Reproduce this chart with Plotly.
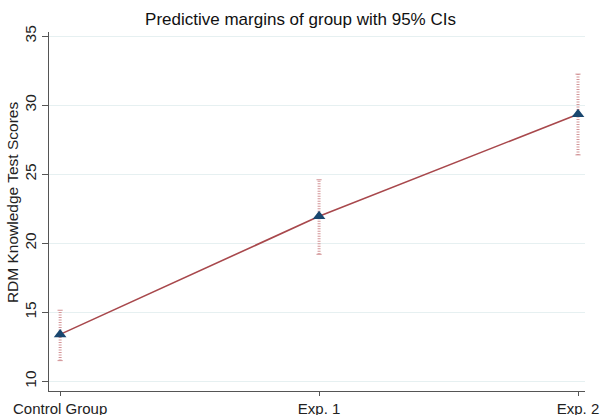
import plotly.graph_objects as go

groups = ["Control Group", "Exp. 1", "Exp. 2"]
margins = [13.4, 21.95, 29.35]
ci_low = [11.5, 19.2, 26.4]
ci_high = [15.15, 24.6, 32.25]
y_ticks = [10, 15, 20, 25, 30, 35]

xpos = list(range(len(groups)))

fig = go.Figure()

# CI bars (dotted) with small caps
ex, ey = [], []
for i, (lo, hi) in enumerate(zip(ci_low, ci_high)):
    ex += [xpos[i], xpos[i], None]
    ey += [lo, hi, None]
fig.add_trace(go.Scatter(x=ex, y=ey, mode="lines",
                         line=dict(color="#d39598", width=3, dash="1px,1.5px"),
                         hoverinfo="skip", showlegend=False))
cx, cy = [], []
cap = 0.01
for i, (lo, hi) in enumerate(zip(ci_low, ci_high)):
    for v in (lo, hi):
        cx += [xpos[i] - cap, xpos[i] + cap, None]
        cy += [v, v, None]
fig.add_trace(go.Scatter(x=cx, y=cy, mode="lines",
                         line=dict(color="#d39598", width=1),
                         hoverinfo="skip", showlegend=False))

fig.add_trace(go.Scatter(x=xpos, y=margins, mode="lines+markers",
                         line=dict(color="#a8484c", width=1.6),
                         marker=dict(symbol="triangle-up", size=11, color="#1a476f"),
                         showlegend=False))

fig.update_layout(
    width=601, height=415,
    margin=dict(l=49, r=16, t=32, b=24),
    paper_bgcolor="white", plot_bgcolor="white",
    font=dict(family="Liberation Sans, Arial, sans-serif", size=15, color="#222"),
    title=dict(text="Predictive margins of group with 95% CIs",
               x=0.5, xanchor="center", y=0.955, yanchor="middle",
               font=dict(size=17, color="#111")),
    annotations=[dict(text="RDM Knowledge Test Scores", textangle=-90,
                      xref="paper", yref="paper", x=-0.068, y=0.525,
                      xanchor="center", yanchor="middle", showarrow=False,
                      font=dict(size=15.5, color="#222"))],
)
fig.update_xaxes(range=[-0.043, 2.027], tickvals=xpos, ticktext=groups,
                 showgrid=False, zeroline=False, automargin=False,
                 showline=True, linecolor="#555", linewidth=1,
                 ticks="outside", ticklen=4, tickcolor="#555",
                 tickfont=dict(size=15, color="#222"))
fig.update_yaxes(range=[9.3, 35.3], tickvals=y_ticks,
                 showgrid=True, gridcolor="#e6f0f1", gridwidth=1,
                 zeroline=False, showline=True, linecolor="#555", linewidth=1,
                 automargin=False,
                 ticks="outside", ticklen=6, tickcolor="#555", tickangle=-90,
                 tickfont=dict(size=15.5, color="#222"))

fig.write_html("out.html", config={"displayModeBar": False},
               post_script="document.body.style.margin='0';")
